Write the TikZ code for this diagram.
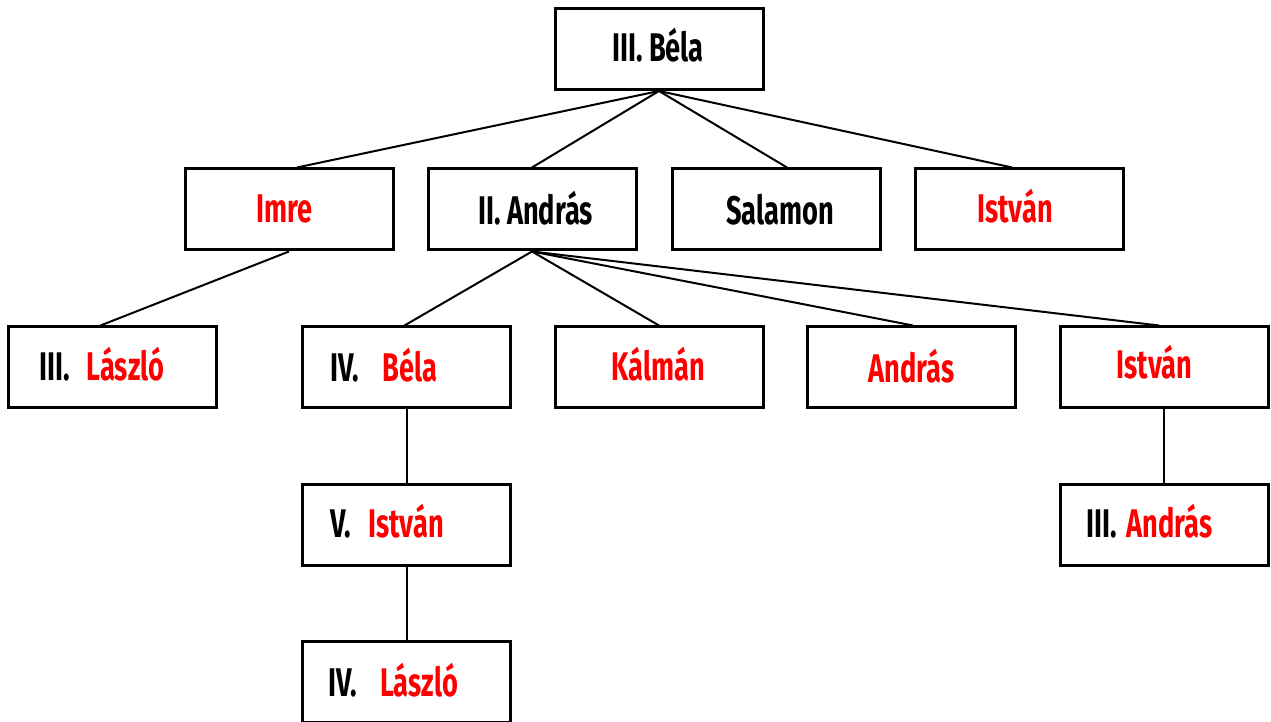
\documentclass[tikz,border=0pt]{standalone}
\usepackage{fontspec}
\newfontfamily\labfont[FakeStretch=0.68]{Fira Sans}
\definecolor{lred}{RGB}{255,0,0}
\begin{document}
\begin{tikzpicture}[x=1pt,y=1pt,
  box/.style={draw=black,line width=3pt,minimum width=208pt,minimum height=81pt,inner sep=0pt},
  lab/.style={anchor=base,inner sep=0pt,font=\labfont\bfseries\fontsize{40}{40}\selectfont},
  blk/.style={lab,text=black},
  rd/.style={lab,text=lred},
  conn/.style={line width=2pt,black}]
\useasboundingbox (0,0) rectangle (1271,722);
% boxes
\node[box] (b1) at (659,673) {};
\node[box] (imre) at (289,512.5) {};
\node[box] (andr2) at (532,512.5) {};
\node[box] (salamon) at (776,512.5) {};
\node[box] (istv2) at (1019,512.5) {};
\node[box] (laszlo3) at (112.5,354.5) {};
\node[box] (bela4) at (406.5,354.5) {};
\node[box] (kalman) at (659,354.5) {};
\node[box] (andras) at (911,354.5) {};
\node[box] (istv3) at (1164,354.5) {};
\node[box] (istv5) at (406.5,197) {};
\node[box] (andr3) at (1164,197) {};
\node[box] (laszlo4) at (406.5,39.5) {};
% labels
\node[blk] (t1) at (658,660) {III. Béla};
\node[rd] (t2) at (284.5,499) {Imre};
\node[blk] (t3) at (535.5,497) {II. András};
\node[blk] (t4) at (780,497) {Salamon};
\node[rd] (t5) at (1015,499) {István};
\node[blk] (t6a) at (55,341) {III.};
\node[rd] (t6b) at (125.5,341) {László};
\node[blk] (t7a) at (345,340) {IV.};
\node[rd] (t7b) at (410,340) {Béla};
\node[rd] (t8) at (658.5,341) {Kálmán};
\node[rd] (t9) at (911.5,339) {András};
\node[rd] (t10) at (1154.5,343) {István};
\node[blk] (t11a) at (340.5,184) {V.};
\node[rd] (t11b) at (406,184) {István};
\node[blk] (t12a) at (1101.5,184) {III.};
\node[rd] (t12b) at (1169.5,184) {András};
\node[blk] (t13a) at (343,25) {IV.};
\node[rd] (t13b) at (419,25) {László};
% connectors
\draw[conn] (b1.south) -- ([xshift=8pt]imre.north);
\draw[conn] (b1.south) -- (andr2.north);
\draw[conn] (b1.south) -- ([xshift=11pt]salamon.north);
\draw[conn] (b1.south) -- ([xshift=-7pt]istv2.north);
\draw[conn] (imre.south) -- ([xshift=-12pt]laszlo3.north);
\draw[conn] (andr2.south) -- ([xshift=-2pt]bela4.north);
\draw[conn] (andr2.south) -- (kalman.north);
\draw[conn] (andr2.south) -- ([xshift=2pt]andras.north);
\draw[conn] (andr2.south) -- ([xshift=-5pt]istv3.north);
\draw[conn] (bela4.south) -- (istv5.north);
\draw[conn] (istv5.south) -- (laszlo4.north);
\draw[conn] (istv3.south) -- (andr3.north);
\end{tikzpicture}
\end{document}
